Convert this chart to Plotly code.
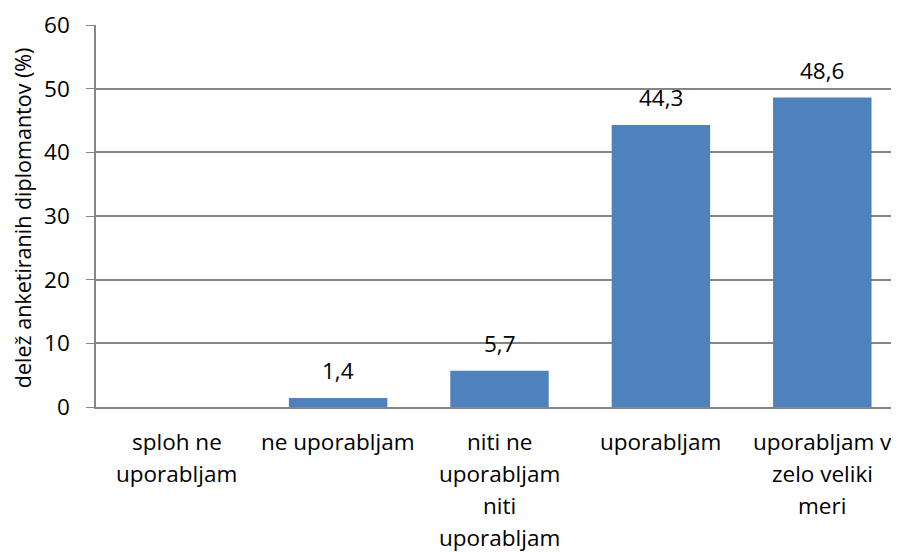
import plotly.graph_objects as go

# ── Data ────────────────────────────────────────────────────────────────────
categories = [
    "splohneupor",
    "neupor",
    "nitineupor",
    "upor",
    "uporzelo",
]
category_lines = [
    ["sploh ne", "uporabljam"],
    ["ne uporabljam"],
    ["niti ne", "uporabljam", "niti", "uporabljam"],
    ["uporabljam"],
    ["uporabljam v", "zelo veliki", "meri"],
]
values = [0, 1.4, 5.7, 44.3, 48.6]
labels = ["", "1,4", "5,7", "44,3", "48,6"]
y_ticks = [0, 10, 20, 30, 40, 50, 60]

_FONT = "Open Sans, Calibri, sans-serif"
_BAR = "#4F81BD"
_GRID = "#868686"
_SIZE = 22.5

fig = go.Figure(
    go.Bar(
        x=categories,
        y=values,
        marker=dict(color=_BAR, line=dict(width=0)),
        width=0.61,
    )
)

# Data labels above bars
for cat, val, lab in zip(categories, values, labels):
    if lab:
        fig.add_annotation(
            x=cat, y=val, xref="x", yref="y",
            text=lab, showarrow=False, yanchor="bottom", yshift=10,
            font=dict(size=_SIZE, color="#000000", family=_FONT),
        )

# Category labels, one annotation per line (Excel-like wide line spacing)
for cat, lines in zip(categories, category_lines):
    for i, line in enumerate(lines):
        fig.add_annotation(
            x=cat,
            y=0,
            xref="x",
            yref="y",
            yshift=-34 - 32 * i,
            text=line,
            showarrow=False,
            font=dict(size=_SIZE, color="#000000", family=_FONT),
            xanchor="center",
            yanchor="middle",
        )

# Y axis title
fig.add_annotation(
    x=-0.0917, y=0.497, xref="paper", yref="paper",
    text="delež anketiranih diplomantov (%)",
    textangle=-90, showarrow=False,
    xanchor="center", yanchor="middle",
    font=dict(size=21.5, color="#000000", family=_FONT),
)

fig.update_layout(
    width=899,
    height=552,
    margin=dict(l=88, r=4, t=17, b=153, autoexpand=False),
    paper_bgcolor="white",
    plot_bgcolor="white",
    font=dict(family=_FONT, size=_SIZE, color="#000000"),
    showlegend=False,
)
fig.update_xaxes(
    showticklabels=False,
    showline=True,
    linecolor=_GRID,
    linewidth=1.5,
    showgrid=False,
    range=[-0.5, 4.5],
)
fig.update_yaxes(
    range=[0, 60],
    tickvals=y_ticks,
    ticks="outside",
    ticklen=8,
    tickcolor=_GRID,
    ticklabelstandoff=12,
    showgrid=True,
    gridcolor=_GRID,
    gridwidth=1.5,
    showline=True,
    linecolor=_GRID,
    linewidth=1.5,
    zeroline=False,
    tickfont=dict(size=_SIZE),
)

fig.write_html("out.html")
